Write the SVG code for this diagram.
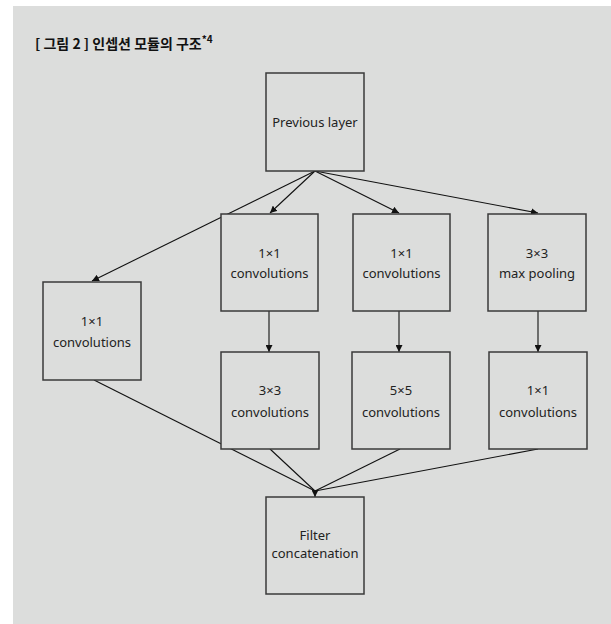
<svg xmlns="http://www.w3.org/2000/svg" width="611" height="624" viewBox="0 0 611 624">
<style>
.box{fill:#dcdddc;stroke:#3a3a3a;stroke-width:1.5}
.t{font-family:"Noto Sans","Noto Sans CJK KR",sans-serif;font-size:13px;fill:#222;text-anchor:middle}
.c{stroke:#111;stroke-width:1.1;fill:none}
.a{marker-end:url(#ah)}
.title{font-family:"Noto Sans CJK KR","Noto Sans",sans-serif;font-size:14px;font-weight:bold;fill:#111}
</style>
<defs>
<marker id="ah" viewBox="0 0 10 10" refX="10" refY="5" markerWidth="7" markerHeight="7" markerUnits="userSpaceOnUse" orient="auto">
<path d="M0,0 L10,5 L0,10 z" fill="#111"/>
</marker>
</defs>
<rect x="0" y="0" width="611" height="624" fill="#ffffff"/>
<rect x="13" y="6" width="598" height="618" fill="#dcdddc"/>
<text class="title" x="35" y="49">[ 그림 2 ] 인셉션 모듈의 구조<tspan font-size="10" dy="-6">*4</tspan></text>
<g id="connectors">
<line class="c a" x1="315" y1="171" x2="92" y2="281"/>
<line class="c a" x1="315" y1="171" x2="270" y2="213"/>
<line class="c a" x1="315" y1="171" x2="399" y2="213"/>
<line class="c a" x1="315" y1="171" x2="538" y2="213"/>
<line class="c a" x1="269" y1="311" x2="269" y2="352"/>
<line class="c a" x1="399" y1="311" x2="399" y2="352"/>
<line class="c a" x1="538" y1="311" x2="538" y2="352"/>
<line class="c" x1="94" y1="380" x2="315" y2="491"/>
<line class="c" x1="270" y1="449" x2="315" y2="491"/>
<line class="c" x1="400" y1="449" x2="315" y2="491"/>
<line class="c" x1="538" y1="449" x2="315" y2="491"/>
<line class="c a" x1="315" y1="490" x2="315" y2="497"/>
</g>
<g id="prev"><rect class="box" x="266" y="73" width="98" height="98"/><text class="t" x="315" y="127">Previous layer</text></g>
<g id="conv1a"><rect class="box" x="221" y="214" width="97" height="97"/><text class="t" x="269.5" y="258">1×1</text><text class="t" x="269.5" y="278">convolutions</text></g>
<g id="conv1b"><rect class="box" x="353" y="214" width="97" height="97"/><text class="t" x="401.5" y="258">1×1</text><text class="t" x="401.5" y="278">convolutions</text></g>
<g id="pool"><rect class="box" x="488" y="214" width="98" height="97"/><text class="t" x="537" y="258">3×3</text><text class="t" x="537" y="278">max pooling</text></g>
<g id="conv1left"><rect class="box" x="43" y="282" width="98" height="98"/><text class="t" x="92" y="326">1×1</text><text class="t" x="92" y="347">convolutions</text></g>
<g id="conv3"><rect class="box" x="221" y="352" width="98" height="97"/><text class="t" x="270" y="395">3×3</text><text class="t" x="270" y="417">convolutions</text></g>
<g id="conv5"><rect class="box" x="352" y="352" width="98" height="97"/><text class="t" x="401" y="395">5×5</text><text class="t" x="401" y="417">convolutions</text></g>
<g id="conv1c"><rect class="box" x="489" y="352" width="98" height="97"/><text class="t" x="538" y="395">1×1</text><text class="t" x="538" y="417">convolutions</text></g>
<g id="concat"><rect class="box" x="266" y="497" width="98" height="97"/><text class="t" x="315" y="540">Filter</text><text class="t" x="315" y="558">concatenation</text></g>
</svg>
